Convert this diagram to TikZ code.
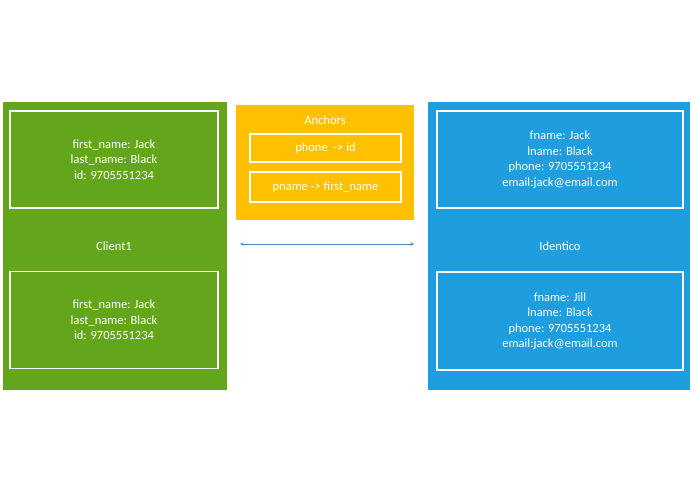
\documentclass[tikz,border=0pt]{standalone}
\usepackage{fontspec}
\setmainfont{Carlito}
\usetikzlibrary{positioning}
\definecolor{clientgreen}{RGB}{99,166,27}
\definecolor{anchoryellow}{RGB}{255,192,0}
\definecolor{identblue}{RGB}{30,158,222}
\definecolor{arrowblue}{RGB}{70,130,190}
\tikzset{
  panel/.style={draw=gray!30, line width=0.8pt, text=white, inner sep=0pt},
  record/.style={draw=white, line width=1.6pt, text=white, align=center, inner sep=0pt},
}
\begin{document}
\begin{tikzpicture}[x=1pt, y=-1pt, font=\fontsize{12.5}{15.5}\selectfont]
\useasboundingbox (0,0) rectangle (695,494);
% client side
\fill[clientgreen] (3,102) rectangle (227,390);
\node[record, minimum width=208pt, minimum height=97pt] (c1) at (114,159.5) {first\_name: Jack\\last\_name: Black\\id: 9705551234};
\node[record, minimum width=208pt, minimum height=97pt] (c2) at (114,320) {first\_name: Jack\\last\_name: Black\\id: 9705551234};
\node[text=white] (client) at (114,246) {Client1};
% anchors
\fill[anchoryellow] (236,105) rectangle (414,220);
\node[text=white] (anch) at (325,120) {Anchors};
\node[record, minimum width=151pt, minimum height=28pt] (a1) at (325.5,148) {phone\ \ -> id};
\node[record, minimum width=151pt, minimum height=30pt] (a2) at (325.5,187) {pname -> first\_name};
% identico side
\fill[identblue] (428,102) rectangle (690,390);
\node[record, minimum width=246pt, minimum height=97pt] (i1) at (560,159.5) {fname: Jack\\lname: Black\\phone: 9705551234\\email:jack@email.com};
\node[record, minimum width=246pt, minimum height=98pt] (i2) at (560,321) {fname: Jill\\lname: Black\\phone: 9705551234\\email:jack@email.com};
\node[text=white] (ident) at (560,246) {Identico};
% link
\coordinate (l) at (240,244);
\coordinate (r) at (414,244);
\draw[<->, >=stealth, arrowblue, line width=0.6pt] (l) -- (r);
\end{tikzpicture}
\end{document}
